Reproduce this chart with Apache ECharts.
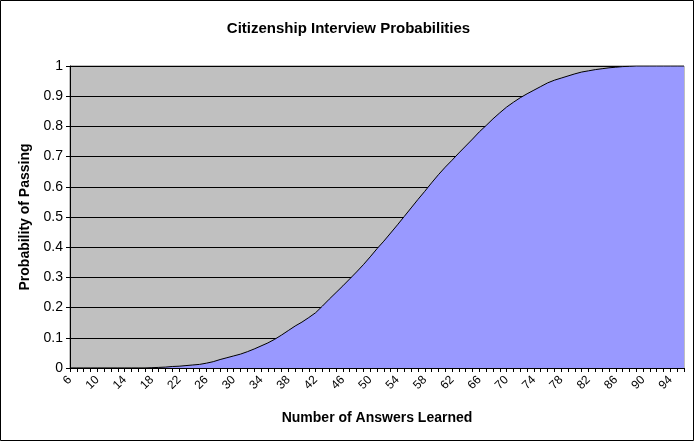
<!DOCTYPE html>
<html>
<head>
<meta charset="utf-8">
<script src="https://cdn.jsdelivr.net/npm/echarts@6/dist/echarts.min.js"></script>
<style>
  html, body { margin: 0; padding: 0; background: #fff; }
  #chart { width: 697px; height: 445px; }
</style>
</head>
<body>
<div id="chart"></div>
<script>
// number of answers learned, 6 .. 96
var answers = [];
for (var a = 6; a <= 96; a++) answers.push(String(a));

// probability of passing (one per category)
var passProb = [
    0, 0, 0, 0, 0, 0, 0, 0, 0, 0, 0, 0,                  // 6-17
    0.001, 0.002, 0.003, 0.005, 0.006, 0.008, 0.010, 0.012, // 18-25
    0.016, 0.021, 0.028, 0.034, 0.040, 0.046, 0.054, 0.063, // 26-33
    0.073, 0.083, 0.095, 0.109, 0.124, 0.139, 0.152, 0.167, // 34-41
    0.183, 0.205, 0.228, 0.250, 0.272, 0.295, 0.318, 0.342, // 42-49
    0.368, 0.395, 0.420, 0.447, 0.474, 0.502, 0.530, 0.558, // 50-57
    0.585, 0.613, 0.640, 0.665, 0.688, 0.712, 0.735, 0.758, // 58-65
    0.782, 0.803, 0.825, 0.845, 0.864, 0.880, 0.895, 0.908, // 66-73
    0.920, 0.932, 0.944, 0.953, 0.960, 0.967, 0.974, 0.980, // 74-81
    0.984, 0.988, 0.991, 0.994, 0.996, 0.998, 0.999,        // 82-88
    1, 1, 1, 1, 1, 1, 1, 1                              // 89-96
];

var chart = echarts.init(document.getElementById('chart'), null, { renderer: 'canvas' });

var font = '"Liberation Sans", Arial, sans-serif';

chart.setOption({
    animation: false,
    backgroundColor: '#fff',
    textStyle: { fontFamily: font, color: '#000' },
    title: {
        text: 'Citizenship Interview Probabilities',
        left: 'center',
        top: 16,
        textStyle: { fontFamily: font, fontSize: 15, fontWeight: 'bold', color: '#000' }
    },
    graphic: [{
        type: 'rect',
        shape: { x: 0.5, y: 0.5, width: 693, height: 440 },
        style: { fill: 'none', stroke: '#000', lineWidth: 1 },
        silent: true
    }],
    grid: {
        left: 70,
        right: 13,
        top: 66,
        bottom: 77,
        show: true,
        backgroundColor: '#C0C0C0',
        borderColor: '#808080',
        borderWidth: 1
    },
    xAxis: {
        type: 'category',
        data: answers,
        boundaryGap: false,
        name: 'Number of Answers Learned',
        nameLocation: 'middle',
        nameGap: 43,
        nameTextStyle: { fontFamily: font, fontSize: 14, fontWeight: 'bold', color: '#000' },
        axisLine: { lineStyle: { color: '#000', width: 1 } },
        axisTick: { show: true, interval: 0, length: 4, lineStyle: { color: '#000' } },
        axisLabel: {
            interval: 3,
            rotate: 45,
            fontSize: 12,
            color: '#000',
            margin: 10
        },
        splitLine: { show: false }
    },
    yAxis: {
        type: 'value',
        min: 0,
        max: 1,
        interval: 0.1,
        name: 'Probability of Passing',
        nameLocation: 'middle',
        nameGap: 36,
        nameTextStyle: { fontFamily: font, fontSize: 14, fontWeight: 'bold', color: '#000' },
        axisLine: { show: true, lineStyle: { color: '#000', width: 1 } },
        axisTick: { show: true, length: 4, lineStyle: { color: '#000' } },
        axisLabel: {
            fontSize: 14,
            color: '#000',
            margin: 7,
            formatter: function (v) { return String(Math.round(v * 10) / 10); }
        },
        splitLine: { show: true, lineStyle: { color: '#000', width: 1 } }
    },
    series: [{
        type: 'line',
        data: passProb,
        symbol: 'none',
        smooth: false,
        lineStyle: { color: '#000', width: 1 },
        areaStyle: { color: '#9999FF', opacity: 1 }
    }]
});
</script>
</body>
</html>
